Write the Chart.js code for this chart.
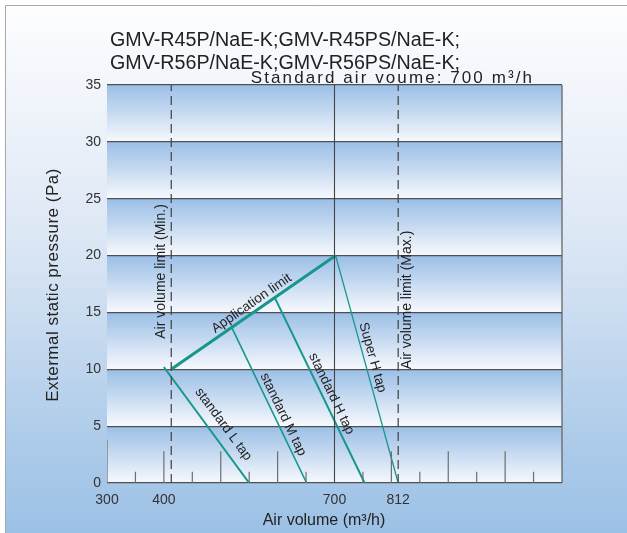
<!DOCTYPE html>
<html><head><meta charset="utf-8">
<script src="https://cdn.jsdelivr.net/npm/chart.js@4.4.1/dist/chart.umd.min.js"></script>
<style>html,body{margin:0;padding:0;background:#fff;overflow:hidden}canvas{display:block}</style>
</head><body><canvas id="c" width="627" height="533"></canvas>
<script>
// ---------- data ----------
const titleLines = ['GMV-R45P/NaE-K;GMV-R45PS/NaE-K;', 'GMV-R56P/NaE-K;GMV-R56PS/NaE-K;'];
const subtitleText = 'Standard air voume: 700 m³/h';
const xAxisTitle = 'Air volume (m³/h)';
const yAxisTitle = 'Extermal static pressure (Pa)';
const xTickValues = [300, 400, 700, 812];
const yTickValues = [0, 5, 10, 15, 20, 25, 30, 35];
const tapNames = ['standard L tap', 'standard M tap', 'standard H tap', 'Super H tap'];
const tapStartX = [400, 519, 595, 702];
const tapStartY = [10.2, 13.7, 16.3, 20];
const tapEndX = [550, 651, 753, 812];
const tapEndY = [0, 0, 0, 0];
const appLimitName = 'Application limit';
const appLimitX = [413, 702];
const appLimitY = [10, 20];
const minLimitName = 'Air volume limit (Min.)';
const maxLimitName = 'Air volume limit (Max.)';
const minLimitX = 413;
const maxLimitX = 812;
const standardX = 700;
const minorTickX = [300, 350, 400, 450, 500, 550, 600, 650, 750, 800, 850, 900, 950, 1000, 1050];
const minorTickH = [3.8, 1, 2.8, 1, 2.8, 1, 2.8, 1, 1, 2.8, 1, 2.8, 1, 2.8, 1];

// ---------- styles / placement (not data) ----------
const TEAL = '#17978b';
const tapWidths = [2, 1.6, 2, 1.3];
const tapLabelT = [0.566, 0.584, 0.54, 0.458];
const tapLabelPerp = [14, 8.5, 9, 8.5];
const FONT = '"Liberation Sans", Arial, sans-serif';

// ---------- datasets ----------
const minorData = [];
minorTickX.forEach((x, i) => { minorData.push({x, y: 0}, {x, y: minorTickH[i]}, {x, y: null}); });

const datasets = [];
datasets.push({data: minorData, borderColor: '#6e6e6e', borderWidth: 1.2, spanGaps: false});
datasets.push({data: [{x: minLimitX, y: 0}, {x: minLimitX, y: 35}], borderColor: '#4a4a4a', borderWidth: 1.3, borderDash: [9, 5]});
datasets.push({data: [{x: maxLimitX, y: 0}, {x: maxLimitX, y: 35}], borderColor: '#4a4a4a', borderWidth: 1.3, borderDash: [9, 5]});
datasets.push({data: [{x: standardX, y: 0}, {x: standardX, y: 35}], borderColor: '#444', borderWidth: 1.1});
datasets.push({data: appLimitX.map((x, i) => ({x, y: appLimitY[i]})), borderColor: TEAL, borderWidth: 3});
tapNames.forEach((n, i) => {
  datasets.push({label: n, data: [{x: tapStartX[i], y: tapStartY[i]}, {x: tapEndX[i], y: tapEndY[i]}], borderColor: TEAL, borderWidth: tapWidths[i]});
});

// ---------- plugins ----------
const bgPlugin = {
  id: 'bg',
  beforeDraw(chart) {
    const {ctx, chartArea: a, scales: {y}} = chart;
    const W = chart.width, H = chart.height;
    ctx.save();
    const g = ctx.createLinearGradient(0, 0, 0, H);
    g.addColorStop(0, '#fdfeff');
    g.addColorStop(0.22, '#eef3fa');
    g.addColorStop(0.45, '#dce7f5');
    g.addColorStop(0.8, '#b0cdea');
    g.addColorStop(1, '#9cc1e6');
    ctx.fillStyle = g;
    ctx.fillRect(0, 0, W, H);
    ctx.fillStyle = '#ffffff';
    ctx.fillRect(0, 0, W, 5);
    ctx.fillRect(0, 0, 5, H);
    ctx.strokeStyle = '#a8a8a8';
    ctx.lineWidth = 1;
    ctx.beginPath();
    ctx.moveTo(5.5, H); ctx.lineTo(5.5, 5.5); ctx.lineTo(W, 5.5);
    ctx.stroke();
    for (let i = 0; i < yTickValues.length - 1; i++) {
      const yb = y.getPixelForValue(yTickValues[i]);
      const yt = y.getPixelForValue(yTickValues[i + 1]);
      const bg = ctx.createLinearGradient(0, yt, 0, yb);
      bg.addColorStop(0, '#9bbfe7');
      bg.addColorStop(0.45, '#c3d8f0');
      bg.addColorStop(1, '#f7f9fd');
      ctx.fillStyle = bg;
      ctx.fillRect(a.left, yt, a.right - a.left, yb - yt);
    }
    ctx.restore();
  },
  afterDatasetsDraw(chart) {
    const {ctx, chartArea: a, scales: {x, y}} = chart;
    ctx.save();
    ctx.strokeStyle = '#666';
    ctx.lineWidth = 1.3;
    ctx.beginPath();
    ctx.moveTo(a.right, a.top); ctx.lineTo(a.right, a.bottom);
    ctx.stroke();
    ctx.fillStyle = '#222';
    function lineLabel(x1, y1, x2, y2, text, t, perp, size) {
      const px1 = x.getPixelForValue(x1), py1 = y.getPixelForValue(y1);
      const px2 = x.getPixelForValue(x2), py2 = y.getPixelForValue(y2);
      const dx = px2 - px1, dy = py2 - py1, len = Math.hypot(dx, dy);
      const ux = dx / len, uy = dy / len;
      const nx = uy, ny = -ux;
      const cx = px1 + dx * t + nx * perp, cy = py1 + dy * t + ny * perp;
      ctx.save();
      ctx.translate(cx, cy);
      ctx.rotate(Math.atan2(dy, dx));
      ctx.font = size + 'px ' + FONT;
      ctx.textAlign = 'center';
      ctx.textBaseline = 'middle';
      ctx.fillText(text, 0, 0);
      ctx.restore();
    }
    tapNames.forEach((n, i) => lineLabel(tapStartX[i], tapStartY[i], tapEndX[i], tapEndY[i], n, tapLabelT[i], tapLabelPerp[i], 13.5));
    lineLabel(appLimitX[0], appLimitY[0], appLimitX[1], appLimitY[1], appLimitName, 0.518, 8.5, 13.5);
    function vLabel(xv, dxp, yv, text) {
      ctx.save();
      ctx.translate(x.getPixelForValue(xv) + dxp, y.getPixelForValue(yv));
      ctx.rotate(-Math.PI / 2);
      ctx.font = '14px ' + FONT;
      ctx.textAlign = 'center';
      ctx.textBaseline = 'middle';
      ctx.fillText(text, 0, 0);
      ctx.restore();
    }
    vLabel(minLimitX, -10, 18.6, minLimitName);
    vLabel(maxLimitX, 9, 16.1, maxLimitName);
    ctx.restore();
  },
  afterDraw(chart) {
    const {ctx} = chart;
    ctx.save();
    ctx.fillStyle = '#222';
    ctx.textBaseline = 'alphabetic';
    ctx.textAlign = 'left';
    ctx.font = '20px ' + FONT;
    ctx.fillText(titleLines[0], 110, 46, 350);
    ctx.fillText(titleLines[1], 110, 69, 350);
    ctx.font = '17px ' + FONT;
    const w = ctx.measureText(subtitleText).width;
    const target = 281;
    const sp = Math.max(0, (target - w) / (subtitleText.length - 1));
    try { ctx.letterSpacing = sp.toFixed(2) + 'px'; } catch (e) {}
    ctx.textAlign = 'right';
    ctx.fillText(subtitleText, 534, 83);
    try { ctx.letterSpacing = '0px'; } catch (e) {}
    ctx.textAlign = 'center';
    ctx.font = '16px ' + FONT;
    ctx.fillStyle = '#222';
    ctx.textBaseline = 'middle';
    ctx.fillText(xAxisTitle, 324, 521);
    ctx.save();
    ctx.translate(53, 285);
    ctx.rotate(-Math.PI / 2);
    ctx.font = '17px ' + FONT;
    try { ctx.letterSpacing = '0.5px'; } catch (e) {}
    ctx.fillText(yAxisTitle, 0, 0);
    ctx.restore();
    ctx.restore();
  }
};

new Chart(document.getElementById('c'), {
  type: 'scatter',
  data: {datasets},
  options: {
    responsive: false,
    animation: false,
    showLine: true,
    elements: {point: {radius: 0, hoverRadius: 0}, line: {tension: 0}},
    layout: {padding: {left: 0, top: 85, right: 65, bottom: 0}},
    plugins: {legend: {display: false}, tooltip: {enabled: false}},
    scales: {
      x: {
        type: 'linear', min: 300, max: 1100,
        afterBuildTicks: s => { s.ticks = xTickValues.map(v => ({value: v})); },
        afterFit: s => { s.height = 50; },
        grid: {display: false, drawTicks: false},
        border: {display: false},
        ticks: {color: '#333', font: {family: FONT, size: 14}, padding: 9, maxRotation: 0, autoSkip: false}
      },
      y: {
        type: 'linear', min: 0, max: 35,
        afterBuildTicks: s => { s.ticks = yTickValues.map(v => ({value: v})); },
        afterFit: s => { s.width = 107; },
        grid: {color: '#505050', lineWidth: 1.2, drawTicks: false},
        border: {display: false},
        ticks: {color: '#333', font: {family: FONT, size: 14}, padding: 6}
      }
    }
  },
  plugins: [bgPlugin]
});
</script>
</body></html>
